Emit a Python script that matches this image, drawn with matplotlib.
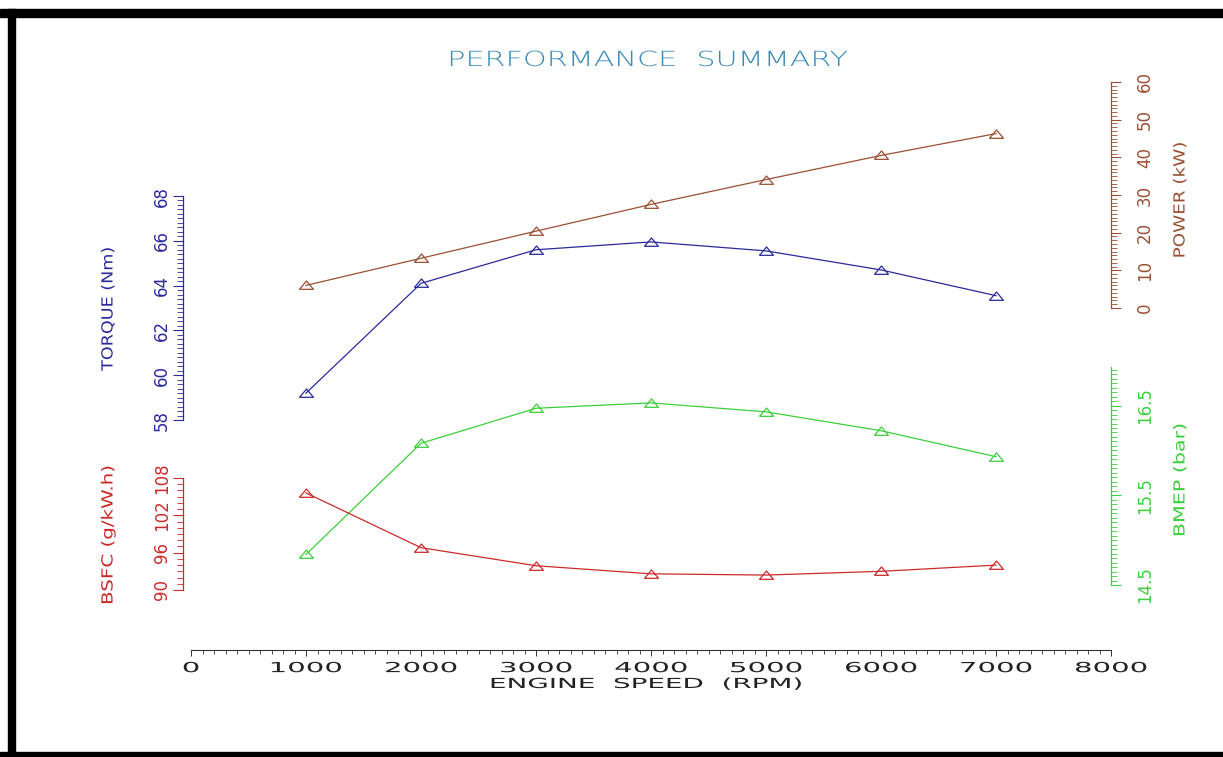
import matplotlib
matplotlib.use("Agg")
import matplotlib.pyplot as plt
from matplotlib.patheffects import AbstractPathEffect
from matplotlib.transforms import Affine2D, blended_transform_factory
from matplotlib.patches import Rectangle
from matplotlib.ticker import MultipleLocator

# ---- data -------------------------------------------------------------
rpm = [1000, 2000, 3000, 4000, 5000, 6000, 7000]
torque_nm = [59.2, 64.1, 65.6, 65.95, 65.55, 64.7, 63.55]
power_kw = [6.0, 13.2, 20.4, 27.5, 34.1, 40.5, 46.3]
bmep_bar = [14.84, 16.08, 16.47, 16.53, 16.43, 16.22, 15.93]
bsfc_gkwh = [105.6, 96.8, 93.9, 92.6, 92.4, 93.0, 94.0]

rpm_ticks = [0, 1000, 2000, 3000, 4000, 5000, 6000, 7000, 8000]
torque_ticks = [58, 60, 62, 64, 66, 68]
power_ticks = [0, 10, 20, 30, 40, 50, 60]
bmep_ticks = [14.5, 15.5, 16.5]
bsfc_ticks = [90, 96, 102, 108]

C_TORQUE = "#2a2a9c"
C_POWER = "#9a4f33"
C_BMEP = "#3ccf3c"
C_BSFC = "#cc2a2a"
C_TITLE = "#3a8cb8"

W, H = 1223, 757


class Stretch(AbstractPathEffect):
    """Widen glyphs along the reading direction, about the text centre."""

    def __init__(self, sx=1.0):
        super().__init__()
        self.sx = sx

    def draw_path(self, renderer, gc, tpath, affine, rgbFace=None):
        ext = tpath.get_extents()
        cx = 0.5 * (ext.x0 + ext.x1)
        local = Affine2D().translate(-cx, 0).scale(self.sx, 1.0).translate(cx, 0)
        renderer.draw_path(gc, tpath, local + affine, rgbFace)


def box(x0, y_top, x1, y_bot):
    """Figure-fraction rectangle from pixel edges (y measured from top)."""
    return [x0 / W, 1 - y_bot / H, (x1 - x0) / W, (y_bot - y_top) / H]


FONT = "DejaVu Sans"
tri = [(-1.0, -0.55), (1.0, -0.55), (0.0, 0.65), (-1.0, -0.55)]

fig = plt.figure(figsize=(W / 100, H / 100), dpi=100)
fig.patch.set_facecolor("white")

# frame bands
fig.patches.append(Rectangle((0, 1 - 17 / H), 1, 8 / H, transform=fig.transFigure,
                             color="black", zorder=10))
fig.patches.append(Rectangle((8 / W, 0), 7 / W, 1 - 9 / H, transform=fig.transFigure,
                             color="black", zorder=10))
fig.patches.append(Rectangle((0, 0), 1, 5 / H, transform=fig.transFigure,
                             color="black", zorder=10))

X0, X1 = 191, 1111


def blank_axes(rect, ylim):
    ax = fig.add_axes(rect)
    ax.set_xlim(0, 8000)
    ax.set_ylim(*ylim)
    ax.patch.set_alpha(0)
    for s in ax.spines.values():
        s.set_visible(False)
    ax.set_xticks([])
    ax.set_yticks([])
    return ax


# ---- engine speed axis --------------------------------------------------
ax_x = blank_axes(box(X0, 82, X1, 650), (0, 1))
ax_x.spines["bottom"].set_visible(True)
ax_x.spines["bottom"].set_color("#333333")
ax_x.spines["bottom"].set_linewidth(0.8)
ax_x.set_xticks(rpm_ticks)
ax_x.xaxis.set_minor_locator(MultipleLocator(100))
ax_x.tick_params(axis="x", which="major", direction="out", length=4, width=0.7,
                 color="#333333", pad=4)
ax_x.tick_params(axis="x", which="minor", direction="out", length=3, width=0.6,
                 color="#333333")
ax_x.set_xticklabels([str(v) for v in rpm_ticks], fontsize=10, family=FONT,
                     color="#222222")
for lab in ax_x.get_xticklabels():
    lab.set_path_effects([Stretch(2.1)])
fig.text(646 / W, 1 - 684 / H, "ENGINE  SPEED  (RPM)", ha="center",
         va="center", fontsize=10, family=FONT, color="#222222",
         path_effects=[Stretch(2.0)])

# ---- title --------------------------------------------------------------
fig.text(648 / W, 1 - 60 / H, "PERFORMANCE  SUMMARY", ha="center", va="center",
         fontsize=15, family=FONT, color=C_TITLE, fontweight="light",
         path_effects=[Stretch(1.45)])


def vertical_scale(rect, ylim, ticks, minor, color, side, label, label_x, label_y,
                   tick_x, label_stretch):
    ax = blank_axes(rect, ylim)
    sp = ax.spines[side]
    sp.set_visible(True)
    sp.set_color(color)
    sp.set_linewidth(0.9)
    if side == "left":
        sp.set_position(("outward", 6))
        ax.yaxis.tick_left()
    else:
        ax.yaxis.tick_right()
    ax.set_yticks(ticks)
    ax.yaxis.set_minor_locator(MultipleLocator(minor))
    ax.tick_params(axis="y", which="major", direction="out", length=7, width=0.8,
                   color=color, labelleft=False, labelright=False)
    ax.tick_params(axis="y", which="minor", direction="out", length=4, width=0.6,
                   color=color)
    # tick labels, rotated along the scale
    tr = blended_transform_factory(fig.transFigure, ax.transData)
    for t in ticks:
        ax.text(tick_x / W, t, "%g" % t, transform=tr, rotation=90, ha="center",
                va="center", fontsize=12, family=FONT, color=color, clip_on=False)
    fig.text(label_x / W, 1 - label_y / H, label, rotation=90, ha="center",
             va="center", fontsize=11, family=FONT, color=color,
             path_effects=[Stretch(label_stretch)])
    return ax


ax_t = vertical_scale(box(X0, 196, X1, 420), (58, 68), torque_ticks, 0.2, C_TORQUE,
                      "left", "TORQUE (Nm)", 108, 309, 162, 1.15)
ax_p = vertical_scale(box(X0, 82, X1, 308), (0, 60), power_ticks, 1, C_POWER,
                      "right", "POWER (kW)", 1180, 200, 1145, 1.2)
ax_b = vertical_scale(box(X0, 367, X1, 585), (14.5, 16.93), bmep_ticks, 0.05, C_BMEP,
                      "right", "BMEP (bar)", 1180, 480, 1145, 1.35)
ax_f = vertical_scale(box(X0, 478, X1, 590), (90, 108), bsfc_ticks, 1, C_BSFC,
                      "left", "BSFC (g/kW.h)", 108, 535, 162, 1.3)

for ax, vals, col in [(ax_t, torque_nm, C_TORQUE), (ax_p, power_kw, C_POWER),
                      (ax_b, bmep_bar, C_BMEP), (ax_f, bsfc_gkwh, C_BSFC)]:
    ax.plot(rpm, vals, color=col, lw=0.9, marker=tri, markersize=10,
            markerfacecolor="none", markeredgecolor=col, markeredgewidth=0.9,
            clip_on=False)

fig.savefig("out.png", dpi=100)
